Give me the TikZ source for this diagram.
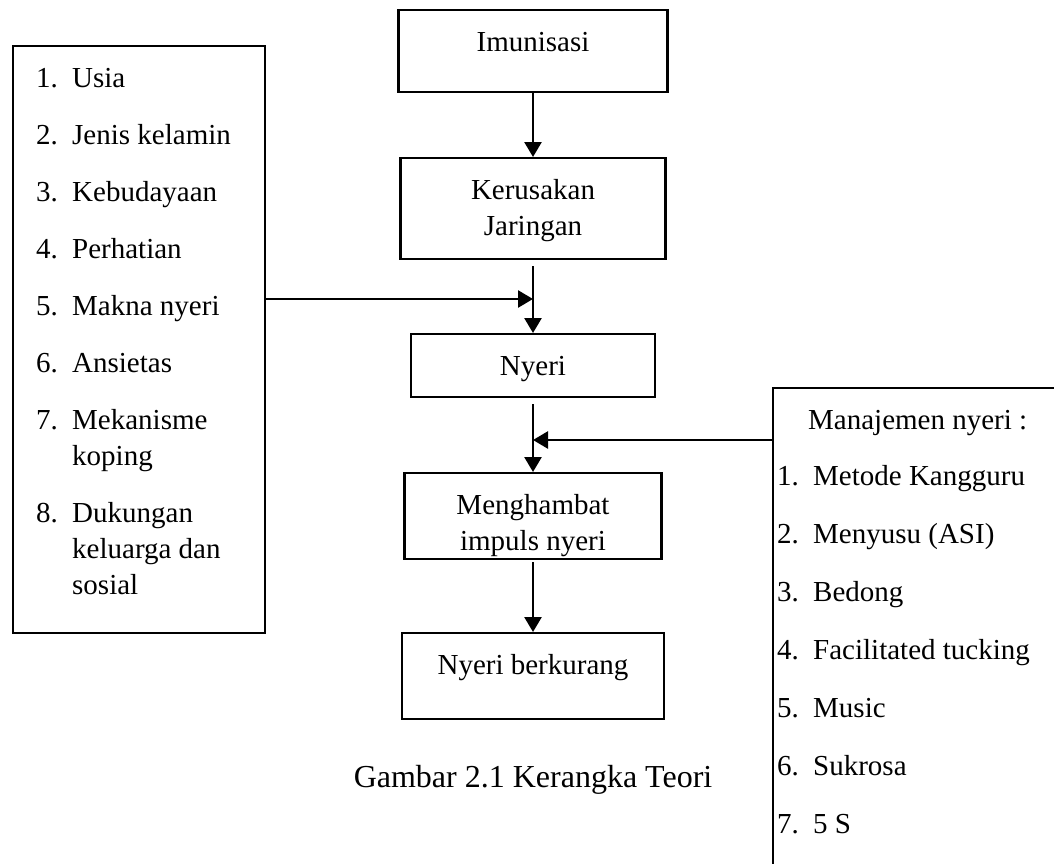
\documentclass[tikz,border=0pt]{standalone}
\usepackage{fontspec}
\setmainfont{Liberation Serif}
\usetikzlibrary{arrows.meta,positioning}

\newcommand{\atas}{\rule{0pt}{20.5pt}}
\newcommand{\nomor}[1]{\makebox[18pt][l]{#1}}
\newcommand{\kotakisi}[3]{\parbox[c][#2][t]{#1}{\centering\atas #3}}

\begin{document}
\begin{tikzpicture}[x=0.5pt,y=-0.5pt,
                    font=\fontsize{14.5}{18}\selectfont,
                    kotak/.style={draw,line width=1.2pt,inner sep=0pt,anchor=north},
                    panah/.style={-{Triangle[length=7.5pt,width=8.5pt]},line width=1.3pt}]
    \useasboundingbox (0,0) rectangle (1054,863);
    \clip (0,0) rectangle (1054,863);

    % alur tengah
    \node [kotak] (imun)   at (533,9)   {\kotakisi{134.5pt}{41pt}{Imunisasi}};
    \node [kotak] (rusak)  at (533,157) {\kotakisi{132.5pt}{50.5pt}{Kerusakan\\Jaringan}};
    \node [kotak] (nyeri)  at (533,333) {\kotakisi{122pt}{31.5pt}{Nyeri}};
    \node [kotak] (hambat) at (533,472) {\kotakisi{128.5pt}{43pt}{Menghambat\\impuls nyeri}};
    \node [kotak] (kurang) at (533,632) {\kotakisi{131pt}{43pt}{Nyeri berkurang}};

    % faktor yang mempengaruhi
    \node [kotak,anchor=north west] (faktor) at (12,45) {\parbox[c][293.5pt][t]{126pt}{\atas
        \hspace*{11.5pt}\nomor{1.}Usia\\[10.5pt]
        \hspace*{11.5pt}\nomor{2.}Jenis kelamin\\[10.5pt]
        \hspace*{11.5pt}\nomor{3.}Kebudayaan\\[10.5pt]
        \hspace*{11.5pt}\nomor{4.}Perhatian\\[10.5pt]
        \hspace*{11.5pt}\nomor{5.}Makna nyeri\\[10.5pt]
        \hspace*{11.5pt}\nomor{6.}Ansietas\\[10.5pt]
        \hspace*{11.5pt}\nomor{7.}Mekanisme\\
        \hspace*{29.5pt}koping\\[10.5pt]
        \hspace*{11.5pt}\nomor{8.}Dukungan\\
        \hspace*{29.5pt}keluarga dan\\
        \hspace*{29.5pt}sosial}};

    % manajemen nyeri
    \node [kotak,anchor=north west] (manajemen) at (772,387) {\parbox[c][260pt][t]{150pt}{\atas
        \hspace*{17.5pt}Manajemen nyeri :\\[10pt]
        \hspace*{2pt}\nomor{1.}Metode Kangguru\\[11pt]
        \hspace*{2pt}\nomor{2.}Menyusu (ASI)\\[11pt]
        \hspace*{2pt}\nomor{3.}Bedong\\[11pt]
        \hspace*{2pt}\nomor{4.}Facilitated tucking\\[11pt]
        \hspace*{2pt}\nomor{5.}Music\\[11pt]
        \hspace*{2pt}\nomor{6.}Sukrosa\\[11pt]
        \hspace*{2pt}\nomor{7.}5 S}};

    \node [font=\fontsize{16}{19}\selectfont] (judul) at (533,780) {Gambar 2.1 Kerangka Teori};

    \coordinate (temu1) at (533,299);
    \coordinate (temu2) at (533,440);

    \draw [panah] (imun) -- (rusak);
    \draw [panah,shorten <=3pt] (rusak) -- (nyeri);
    \draw [panah] (faktor.east |- temu1) -- (temu1);
    \draw [panah,shorten <=3pt] (nyeri) -- (hambat);
    \draw [panah] (manajemen.west |- temu2) -- (temu2);
    \draw [panah,shorten <=1pt] (hambat) -- (kurang);
\end{tikzpicture}
\end{document}
